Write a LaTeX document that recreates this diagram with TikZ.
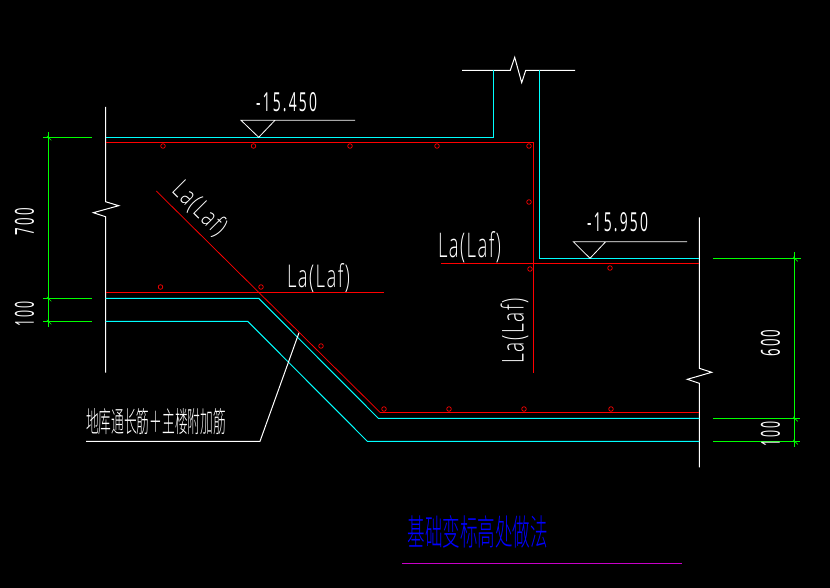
\documentclass[tikz,border=0pt]{standalone}
\usepackage{graphicx}
\usepackage{fontspec}
\setmainfont{Liberation Sans}
\newfontfamily\cjkthin{Noto Sans CJK SC Light}
\newfontfamily\cadfont[LetterSpace=8]{Open Sans Light}
\newfontfamily\digitfont[LetterSpace=16]{Open Sans}
\newcommand{\fitbox}[3]{\resizebox{#1pt}{#2pt}{#3}}
\definecolor{cadcyan}{RGB}{0,255,255}
\definecolor{cadred}{RGB}{255,0,0}
\definecolor{cadgreen}{RGB}{0,255,0}
\definecolor{cadblue}{RGB}{0,0,255}
\definecolor{cadmagenta}{RGB}{200,0,200}
\tikzset{
  wline/.style={draw=white,line width=1pt},
  cyanline/.style={draw=cadcyan,line width=1pt},
  redbold/.style={draw=cadred,line width=1.4pt},
  redthin/.style={draw=cadred,line width=0.75pt},
  dimline/.style={draw=cadgreen,line width=1pt},
  tickmark/.style={draw=cadgreen,line width=0.7pt},
  dot/.style={draw=cadred,line width=0.7pt,circle,minimum size=4.6pt,inner sep=0pt},
  cadtext/.style={text=white,inner sep=0pt,font=\cadfont},
  digittext/.style={text=white,inner sep=0pt,font=\digitfont},
  cntext/.style={inner sep=0pt,font=\cjkthin}
}
\begin{document}
\begin{tikzpicture}[x=1pt,y=-1pt]
\path[fill=black] (0,0) rectangle (830,588);
\useasboundingbox (0,0) rectangle (830,588);
% walls and break lines
\draw[wline] (105.5,107) -- (105.5,201.7) -- (118.7,205.7) -- (93.3,212.7) -- (105.5,216.7) -- (105.5,372.7);
\draw[wline] (699.3,217.3) -- (699.3,368.3) -- (711.7,372.3) -- (687.3,379.3) -- (699.3,383.3) -- (699.3,467.3);
\draw[wline] (462,70.3) -- (510.3,70.3) -- (514.7,57.3) -- (521.7,82.7) -- (525.7,70.3) -- (575,70.3);
% concrete outline
\draw[cyanline] (105.5,137.3) -- (493.3,137.3) -- (493.3,70.3);
\draw[cyanline] (539.3,70.3) -- (539.3,258.3) -- (699.3,258.3);
\draw[cyanline] (105.5,298.3) -- (258.7,298.3) -- (378.3,418.3) -- (699.3,418.3);
\draw[cyanline] (105.5,321.3) -- (247.7,321.3) -- (367.3,441.3) -- (699.3,441.3);
% rebar
\draw[redbold] (105.5,142.3) -- (533.3,142.3);
\draw[redthin] (533.3,142.3) -- (533.3,373.3);
\draw[redthin] (441,263.3) -- (699.3,263.3);
\draw[redbold] (105.5,292.3) -- (384,292.3);
\draw[redthin] (156.3,191) -- (380,412.3);
\draw[redbold] (380,412.3) -- (699.3,412.3);
\foreach \i/\px/\py in {a/163/146,b/253.5/146,c/350/146,d/437/146,e/529/146,f/529/202,g/530/269,h/610/268,i/160.5/287,j/261/287,k/321/346,l/384/409,m/449/409,n/524/409,o/611/409}
  \node[dot] (dot\i) at (\px,\py) {};
% elevation marks
\draw[wline,line width=0.8pt] (355,120.3) -- (241,120.3) -- (258.7,137.3) -- (275,120.3);
\draw[wline,line width=0.8pt] (687,241.7) -- (573.3,241.7) -- (590,258.3) -- (605.7,241.7);
\node[digittext] (elevA) at (286.5,102.5) {\fitbox{61}{19}{-15.450}};
\node[digittext] (elevB) at (617.5,222.5) {\fitbox{61}{19}{-15.950}};
% anchorage labels
\node[cadtext] (laA) at (318.5,278) {\fitbox{63}{24}{La(Laf)}};
\node[cadtext] (laB) at (469.5,247) {\fitbox{63}{26}{La(Laf)}};
\node[cadtext,rotate=90] (laC) at (514.5,331) {\fitbox{65}{23}{La(Laf)}};
\node[cadtext,rotate=-45] (laD) at (199.5,209) {\fitbox{65}{20}{La(Laf)}};
% leader
\coordinate (leadEnd) at (299,332.7);
\node[cntext,text=white] (note) at (156,422) {\fitbox{140}{24}{地库通长筋＋主楼附加筋}};
\draw[wline] (86,441.3) -- (260,441.3) -- (leadEnd);
% title
\node[cntext,text=cadblue] (title) at (477.5,532) {\fitbox{140}{30}{基础变标高处做法}};
\draw[draw=cadmagenta,line width=0.8pt] (402,563.3) -- (682,563.3);
% dimensions
\draw[dimline] (48.3,132.3) -- (48.3,326.7);
\draw[dimline] (43.3,137.3) -- (91.7,137.3);
\draw[dimline] (43.3,298.3) -- (91.7,298.3);
\draw[dimline] (43.3,321.3) -- (91.7,321.3);
\draw[dimline] (794.7,252.3) -- (794.7,446.7);
\draw[dimline] (713,258.3) -- (801,258.3);
\draw[dimline] (713,418.3) -- (800,418.3);
\draw[dimline] (713,441.3) -- (800,441.3);
\foreach \px/\py in {48.3/137.3,48.3/298.3,48.3/321.3,794.7/258.3,794.7/418.3,794.7/441.3}
  \draw[tickmark] (\px-1.5,\py-1.5) -- (\px+3,\py+3);
\node[digittext,rotate=90] (dimA) at (24.5,221.5) {\fitbox{27}{19}{700}};
\node[digittext,rotate=90] (dimB) at (24.5,314) {\fitbox{25}{19}{100}};
\node[digittext,rotate=90] (dimC) at (770.5,343) {\fitbox{27}{19}{600}};
\node[digittext,rotate=90] (dimD) at (770.5,434) {\fitbox{25}{19}{100}};
\end{tikzpicture}
\end{document}
